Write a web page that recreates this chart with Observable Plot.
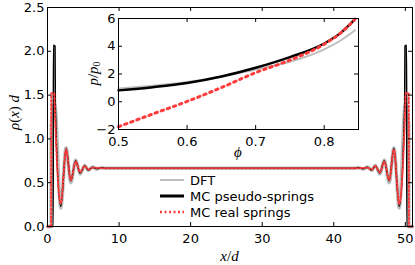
<!DOCTYPE html>
<html><head><meta charset="utf-8">
<script src="https://cdn.jsdelivr.net/npm/d3@7"></script>
<script src="https://cdn.jsdelivr.net/npm/@observablehq/plot@0.6"></script>
<style>
body{margin:0;background:#fff;}
#chart{position:relative;width:415px;height:265px;overflow:hidden;}
#chart svg{position:absolute;left:0;top:0;}
</style></head><body><div id="chart"></div>
<script>
// ---- main panel: density profile rho(x) d vs x/d ----
const xTicks = [0, 10, 20, 30, 40, 50];
const yTicks = [0, 0.5, 1.0, 1.5, 2.0, 2.5];
const seriesNames = ["DFT", "MC pseudo-springs", "MC real springs"];

const dftProfile = [
  [0,0],[0.5,0],[0.52,1.15],[1.0,1.40],[1.85,0.21],[2.6,0.90],[3.25,0.50],[3.95,0.76],
  [4.55,0.60],[5.2,0.70],[5.7,0.64],[6.3,0.68],[6.9,0.655],[7.5,0.67],[8.2,0.665],
  [42.8,0.665],[43.5,0.67],[44.1,0.655],[44.7,0.68],[45.3,0.64],[45.8,0.70],[46.45,0.60],
  [47.05,0.76],[47.75,0.50],[48.4,0.90],[49.15,0.21],[50.0,1.40],[50.48,1.15],[50.5,0],[51,0]
];
const pseudoProfile = [
  [0,0],[0.8,0],[0.82,2.07],[1.05,2.06],[1.1,1.35],[1.85,0.23],[2.6,0.89],[3.25,0.52],
  [3.95,0.75],[4.55,0.61],[5.2,0.69],[5.7,0.645],[6.3,0.675],[6.9,0.66],[7.5,0.67],[8.2,0.665],
  [42.8,0.665],[43.5,0.67],[44.1,0.66],[44.7,0.675],[45.3,0.645],[45.8,0.69],[46.45,0.61],
  [47.05,0.75],[47.75,0.52],[48.4,0.89],[49.15,0.23],[49.9,1.35],[49.95,2.06],[50.18,2.07],[50.2,0],[51,0]
];
const realProfile = [
  [0,0],[0.5,0],[0.52,1.52],[0.95,1.52],[1.0,1.40],[1.85,0.26],[2.6,0.88],[3.25,0.53],
  [3.95,0.74],[4.55,0.62],[5.2,0.69],[5.7,0.65],[6.3,0.67],[8.2,0.665],
  [42.8,0.665],[44.7,0.67],[45.3,0.65],[45.8,0.69],[46.45,0.62],[47.05,0.74],[47.75,0.53],
  [48.4,0.88],[49.15,0.26],[50.0,1.40],[50.05,1.52],[50.48,1.52],[50.5,0],[51,0]
];

// ---- inset: equation of state p/p0 vs phi ----
const insetXTicks = [0.5, 0.6, 0.7, 0.8];
const insetYTicks = [-2, 0, 2, 4, 6];
const dftEOS = [[0.5,0.95],[0.55,1.15],[0.6,1.42],[0.65,1.80],[0.7,2.33],[0.75,2.88],[0.8,3.78],[0.825,4.45],[0.845,5.15]];
const pseudoEOS = [[0.5,0.82],[0.55,1.05],[0.6,1.35],[0.65,1.82],[0.7,2.45],[0.75,3.22],[0.8,4.2],[0.825,5.0],[0.845,5.95]];
const realEOS = [[0.5,-1.8],[0.55,-0.88],[0.6,0.02],[0.65,1.02],[0.7,2.1],[0.75,3.0],[0.8,4.15],[0.825,5.0],[0.845,5.95]];

const colors = ["#bdbdbd", "#000000", "#ff3b3b"];
const font = "DejaVu Sans";
const rows = a => a.map(([x, y]) => ({x, y}));

const W = 415, H = 265;
const mL = 47, mR = 3, mT = 7, mB = 39;
const pw = W - mL - mR, ph = H - mT - mB;

const main = Plot.plot({
  width: W, height: H,
  marginLeft: mL, marginRight: mR, marginTop: mT, marginBottom: mB,
  style: {fontFamily: font, fontSize: "13px", background: "white", color: "black", overflow: "visible"},
  x: {domain: [0, 51], label: null},
  y: {domain: [0, 2.5], label: null},
  marks: [
    Plot.line(rows(dftProfile), {x: "x", y: "y", curve: "monotone-x", stroke: colors[0], strokeWidth: 3.5}),
    Plot.line(rows(pseudoProfile), {x: "x", y: "y", curve: "monotone-x", stroke: colors[1], strokeWidth: 1.5}),
    Plot.line(rows(realProfile), {x: "x", y: "y", curve: "monotone-x", stroke: colors[2], strokeWidth: 2, strokeDasharray: "1.8,2.2"}),
    Plot.frame({stroke: "black", strokeWidth: 1}),
    Plot.ruleX(xTicks, {x: d => d, insetTop: ph - 4, stroke: "black"}),
    Plot.ruleX(xTicks, {x: d => d, insetBottom: ph - 4, stroke: "black"}),
    Plot.ruleY(yTicks, {y: d => d, insetRight: pw - 4, stroke: "black"}),
    Plot.ruleY(yTicks, {y: d => d, insetLeft: pw - 4, stroke: "black"}),
    Plot.axisX(xTicks, {anchor: "bottom", tickSize: 0, tickPadding: 7, tickFormat: d => String(d), label: null, fontSize: 13}),
    Plot.axisY(yTicks, {anchor: "left", tickSize: 0, tickPadding: 3, tickFormat: d => d.toFixed(1), label: null, fontSize: 13})
  ]
});

// inset frame x: 118..358, y: 18..129
const iL = 118, iR = W - 358, iT = 18, iB = H - 129;
const ipw = W - iL - iR, iph = H - iT - iB;
const inset = Plot.plot({
  width: W, height: H,
  marginLeft: iL, marginRight: iR, marginTop: iT, marginBottom: iB,
  style: {fontFamily: font, fontSize: "13px", background: "transparent", color: "black", overflow: "visible"},
  x: {domain: [0.5, 0.85], label: null},
  y: {domain: [-2, 6], label: null},
  marks: [
    Plot.frame({fill: "white"}),
    Plot.line(rows(dftEOS), {x: "x", y: "y", curve: "monotone-x", stroke: colors[0], strokeWidth: 2}),
    Plot.line(rows(pseudoEOS), {x: "x", y: "y", curve: "monotone-x", stroke: colors[1], strokeWidth: 2.5}),
    Plot.line(rows(realEOS), {x: "x", y: "y", curve: "monotone-x", stroke: colors[2], strokeWidth: 3, strokeDasharray: "2.5,4"}),
    Plot.frame({stroke: "black", strokeWidth: 1}),
    Plot.ruleX(insetXTicks, {x: d => d, insetTop: iph - 4, stroke: "black"}),
    Plot.ruleX(insetXTicks, {x: d => d, insetBottom: iph - 4, stroke: "black"}),
    Plot.ruleY(insetYTicks, {y: d => d, insetRight: ipw - 4, stroke: "black"}),
    Plot.ruleY(insetYTicks, {y: d => d, insetLeft: ipw - 4, stroke: "black"}),
    Plot.axisX(insetXTicks, {anchor: "bottom", tickSize: 0, tickPadding: 7, tickFormat: d => d.toFixed(1), label: null, fontSize: 13}),
    Plot.axisY(insetYTicks, {anchor: "left", tickSize: 0, tickPadding: 3, tickFormat: d => (d < 0 ? "\u2212" + Math.abs(d) : String(d)), label: null, fontSize: 13})
  ]
});

const chart = document.getElementById("chart");
chart.appendChild(main);
chart.appendChild(inset);

const mathFont = "'Liberation Serif', 'DejaVu Serif', serif";
const ms = d3.select(main);
// axis labels main
ms.append("text").attr("x", mL + pw / 2).attr("y", 256).attr("text-anchor", "middle")
  .attr("dominant-baseline", "central").style("font-family", mathFont).style("font-size", "15px")
  .html('<tspan font-style="italic">x</tspan>/<tspan font-style="italic">d</tspan>');
ms.append("text").attr("transform", `translate(14,${mT + ph / 2 - 4}) rotate(-90)`).attr("text-anchor", "middle")
  .attr("dominant-baseline", "central").style("font-family", mathFont).style("font-size", "15px")
  .html('<tspan font-style="italic">ρ</tspan>(<tspan font-style="italic">x</tspan>) <tspan font-style="italic">d</tspan>');

// legend
const legendY = [180, 196, 212];
const lg = ms.append("g");
seriesNames.forEach((name, i) => {
  const line = lg.append("line").attr("x1", 160).attr("x2", 184).attr("y1", legendY[i]).attr("y2", legendY[i])
    .attr("stroke", colors[i]).attr("stroke-width", [2, 3, 2.5][i]);
  if (i === 2) line.attr("stroke-dasharray", "2,2.5");
  lg.append("text").attr("x", 190).attr("y", legendY[i]).attr("dominant-baseline", "central")
    .attr("text-anchor", "start")
    .style("font-family", font).style("font-size", "13px").text(name);
});

// inset labels
const is = d3.select(inset);
is.append("text").attr("x", iL + ipw / 2).attr("y", 152).attr("text-anchor", "middle")
  .attr("dominant-baseline", "central").style("font-family", mathFont).style("font-size", "15px")
  .style("font-style", "italic").text("ϕ");
is.append("text").attr("transform", `translate(93,${iT + iph / 2}) rotate(-90)`).attr("text-anchor", "middle")
  .attr("dominant-baseline", "central").style("font-family", mathFont).style("font-size", "15px")
  .html('<tspan font-style="italic">p</tspan>/<tspan font-style="italic">p</tspan><tspan font-size="10px" dy="3">0</tspan>');
</script></body></html>
